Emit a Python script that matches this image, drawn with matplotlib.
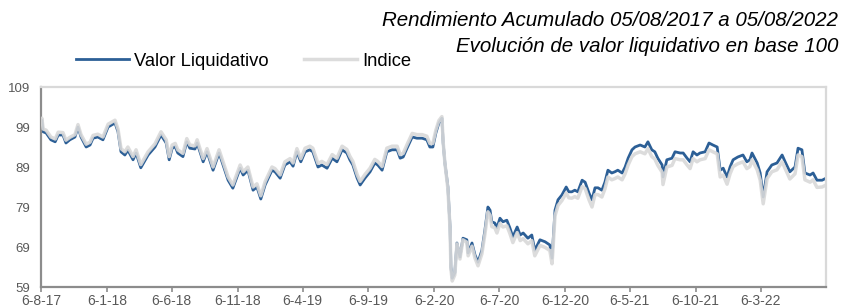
import pandas as pd
import matplotlib
matplotlib.use("Agg")
import matplotlib.pyplot as plt
import matplotlib.dates as mdates
from matplotlib.ticker import FuncFormatter

plt.rcParams['font.family'] = ['Liberation Sans', 'DejaVu Sans']

# dias desde el 06-08-2017
dias = [0, 2, 5, 12, 23, 33, 40, 51, 58, 67, 79, 86, 93, 105, 114, 121, 132, 144, 156, 172,
        179, 186, 195, 202, 214, 221, 232, 249, 265, 279, 291, 298, 305, 312, 318, 330, 339, 346, 358, 363,
        377, 386, 400, 414, 435, 446, 463, 470, 481, 493, 502, 511, 521, 537, 544, 556, 567, 579, 586, 595,
        604, 614, 625, 632, 644, 653, 665, 677, 688, 700, 711, 718, 725, 735, 742, 753, 765, 776, 783, 793,
        804, 816, 828, 835, 842, 851, 863, 874, 886, 897, 904, 911, 918, 925, 932, 935, 939, 946, 951, 953,
        956, 962, 967, 974, 981, 990, 993, 1002, 1009, 1016, 1025, 1032, 1039, 1044, 1048, 1055, 1060, 1067, 1074, 1083,
        1090, 1097, 1107, 1114, 1121, 1132, 1141, 1148, 1160, 1172, 1183, 1188, 1190, 1195, 1202, 1211, 1221, 1227, 1234, 1241,
        1248, 1258, 1265, 1274, 1281, 1288, 1295, 1304, 1311, 1318, 1327, 1334, 1341, 1351, 1358, 1365, 1374, 1381, 1393, 1404,
        1411, 1420, 1427, 1434, 1444, 1446, 1455, 1467, 1474, 1486, 1493, 1502, 1509, 1516, 1525, 1532, 1544, 1553, 1562, 1572,
        1579, 1586, 1595, 1602, 1609, 1620, 1632, 1641, 1648, 1653, 1665, 1672, 1679, 1688, 1699, 1711, 1723, 1730, 1741, 1753,
        1760, 1769, 1776, 1788, 1795, 1804, 1816, 1825]

valor_liquidativo = [100, 100.7, 97.8, 97.5, 95.8, 95.3, 97, 97, 95, 95.8, 96.5, 99, 96.5, 94, 94.5, 96.2, 96.5, 95.8, 99, 100,
                     97.8, 92.8, 92, 93.2, 90.8, 92.5, 88.8, 92, 94, 97, 95, 90.8, 93.7, 94.1, 92.5, 91.6, 95.3, 93.7, 93.5, 95,
                     90.3, 92.8, 88.2, 92.5, 85.7, 83.7, 88.7, 87, 88.2, 83.2, 84, 81, 84.5, 88.2, 87.8, 86.2, 89.5, 90.3, 89.2, 92.8,
                     90.3, 92.8, 93.3, 92.8, 89, 89.5, 88.7, 91.2, 90.3, 93.3, 92.5, 90.8, 89.5, 86.2, 84.5, 86.2, 87.8, 90, 89.5, 88.2,
                     92.8, 93.3, 93.3, 91.2, 91.5, 93.7, 96.5, 96.2, 96.2, 95.8, 94, 94, 97.5, 100, 101.2, 95, 90, 84, 74, 64,
                     61.2, 62.5, 70, 66.5, 71.2, 70.8, 67.5, 70, 67, 65.2, 68.2, 73.2, 79, 78.2, 75.3, 75, 73.8, 76.2, 75.3, 75.7,
                     73.8, 71.5, 74, 72, 72.5, 71.2, 72, 68.2, 70.8, 70.3, 69.5, 66.2, 69.5, 78.2, 80.8, 82, 84, 82.8, 82.8, 83.2,
                     82.8, 85.7, 85.2, 82.5, 80.8, 83.8, 83.8, 83.2, 85.2, 88.2, 87.5, 87.8, 88.2, 87.5, 89, 91.2, 93.3, 94, 94.5, 94,
                     95.3, 93.3, 92.8, 91.2, 89.5, 86.5, 90.8, 91.2, 92.8, 92.5, 92.5, 91.2, 90.3, 92.8, 92, 92.5, 92.8, 95, 94.5, 94,
                     88.2, 88.7, 86.5, 89, 90.8, 91.5, 92, 90.3, 90.8, 92.5, 90, 87.5, 81.5, 87.8, 89.5, 90, 92, 90.3, 87.8, 89,
                     93.7, 93.3, 87.5, 87, 87.5, 85.7, 85.7, 86.2]

indice = [100, 101.2, 98.5, 98.2, 96.5, 96, 97.7, 97.6, 95.7, 96.4, 97.1, 99.6, 97.1, 94.7, 95.2, 96.9, 97.2, 96.5, 99.7, 100.7,
          98.5, 93.6, 92.8, 94, 91.6, 93.3, 89.6, 92.8, 94.8, 97.8, 95.8, 91.6, 94.5, 94.9, 93.3, 92.4, 96.1, 94.5, 94.3, 95.8,
          91.1, 93.6, 89, 93.3, 86.5, 84.5, 89.5, 87.8, 89, 84, 84.8, 81.8, 85.3, 89, 88.6, 87, 90.3, 91.1, 90, 93.6,
          91.1, 93.7, 94.2, 93.7, 89.9, 90.4, 89.6, 92.1, 91.2, 94.2, 93.4, 91.7, 90.4, 87.1, 85.4, 87.1, 88.7, 90.9, 90.4, 89.1,
          93.7, 94.2, 94.2, 92.1, 92.4, 94.6, 97.4, 97.1, 97.1, 96.7, 94.9, 94.9, 98.2, 100.6, 101.6, 95.2, 90, 83.5, 73.5, 63.5,
          60.5, 62, 69.8, 66, 70.8, 70.2, 66.8, 69.2, 66.2, 64.3, 67.3, 72.2, 77.8, 77, 74.1, 73.8, 72.5, 74.9, 74, 74.3,
          72.4, 70.1, 72.6, 70.6, 71.1, 69.8, 70.6, 66.8, 69.4, 68.9, 68.1, 64.8, 68, 76.8, 79.4, 80.6, 82.5, 81.3, 81.2, 81.6,
          81.2, 84.1, 83.6, 80.8, 79, 82.1, 82.1, 81.5, 83.5, 86.5, 85.8, 86.1, 86.5, 85.8, 87.3, 89.5, 91.6, 92.3, 92.8, 92.3,
          93.6, 91.6, 91, 89.4, 87.7, 84.6, 89, 89.4, 91.1, 90.8, 90.8, 89.5, 88.6, 91.1, 90.3, 90.8, 91.1, 93.3, 92.8, 92.3,
          86.5, 87, 84.7, 87.3, 89.1, 89.8, 90.3, 88.6, 89.1, 90.8, 88.3, 85.7, 79.8, 86.1, 87.8, 88.3, 90.3, 88.6, 86, 87.3,
          92, 91.6, 85.8, 85.2, 85.8, 83.9, 84, 84.5]

titulo = ["Rendimiento Acumulado 05/08/2017 a 05/08/2022",
          "Evolución de valor liquidativo en base 100"]
y_ticks = [59, 69, 79, 89, 99, 109]
x_ticks = ["2017-08-06", "2018-01-06", "2018-06-06", "2018-11-06", "2019-04-06", "2019-09-06",
           "2020-02-06", "2020-07-06", "2020-12-06", "2021-05-06", "2021-10-06", "2022-03-06"]

inicio = pd.Timestamp("2017-08-06")
fechas = inicio + pd.to_timedelta(dias, unit="D")


def fmt_fecha(v, pos):
    d = mdates.num2date(v)
    return "{0}-{1}-{2}".format(d.day, d.month, d.strftime("%y"))


fig = plt.figure(figsize=(8.41, 3.07), dpi=100)
ax = fig.add_axes([41 / 841, 1 - 287 / 307, 785 / 841, 200 / 307])

ax.plot(fechas, valor_liquidativo, color="#2c5f96", lw=2.0, label="Valor Liquidativo", zorder=2)
ax.plot(fechas, indice, color="#d9d9d9", lw=2.5, alpha=0.9, label="Indice", zorder=3)

ax.set_ylim(59, 109)
ax.set_yticks(y_ticks)
ax.set_xlim(inicio, pd.Timestamp("2022-08-05"))
ax.set_xticks(pd.to_datetime(x_ticks))
ax.xaxis.set_major_formatter(FuncFormatter(fmt_fecha))

for s in ["left", "bottom"]:
    ax.spines[s].set_color("#8c8c8c")
    ax.spines[s].set_linewidth(1.6)
for s in ["top", "right"]:
    ax.spines[s].set_color("#d9d9d9")
    ax.spines[s].set_linewidth(1.6)

ax.tick_params(axis="y", length=0, pad=8, labelsize=9.5, labelcolor="#595959")
ax.tick_params(axis="x", length=3.5, width=1.2, color="#8c8c8c", pad=1.5, labelsize=10, labelcolor="#595959")

fig.text(0.9965, 1 - 20 / 307, titulo[0], ha="right", va="center", fontsize=14.8, style="italic")
fig.text(0.9965, 1 - 47 / 307, titulo[1], ha="right", va="center", fontsize=14.8, style="italic")

fig.legend(loc="center left", bbox_to_anchor=(76 / 841, 1 - 61 / 307), ncol=2, frameon=False,
           fontsize=13.2, handlelength=2.9, handletextpad=0.28, columnspacing=1.9, borderpad=0,
           borderaxespad=0)

fig.savefig("out.png", dpi=100)
